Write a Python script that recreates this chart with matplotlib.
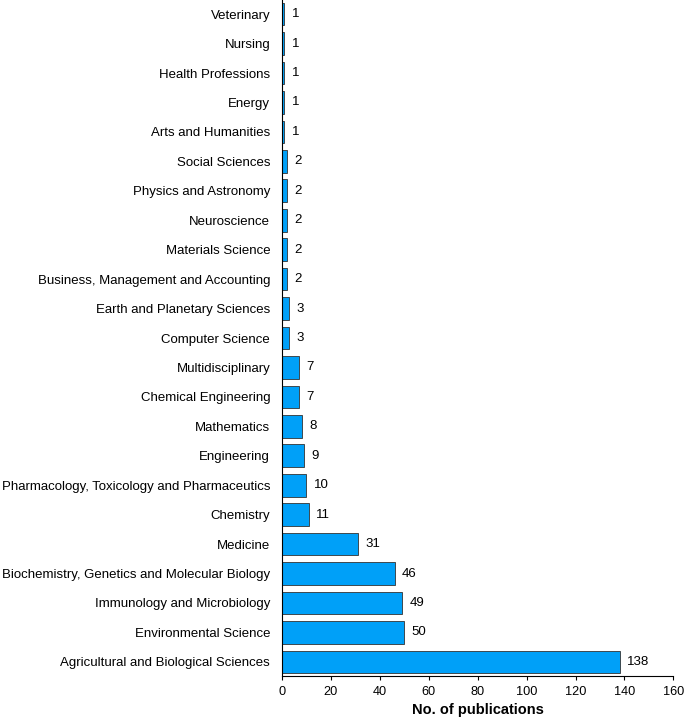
import matplotlib
matplotlib.use("Agg")
import matplotlib.pyplot as plt

categories = [
    "Agricultural and Biological Sciences",
    "Environmental Science",
    "Immunology and Microbiology",
    "Biochemistry, Genetics and Molecular Biology",
    "Medicine",
    "Chemistry",
    "Pharmacology, Toxicology and Pharmaceutics",
    "Engineering",
    "Mathematics",
    "Chemical Engineering",
    "Multidisciplinary",
    "Computer Science",
    "Earth and Planetary Sciences",
    "Business, Management and Accounting",
    "Materials Science",
    "Neuroscience",
    "Physics and Astronomy",
    "Social Sciences",
    "Arts and Humanities",
    "Energy",
    "Health Professions",
    "Nursing",
    "Veterinary",
]
counts = [138, 50, 49, 46, 31, 11, 10, 9, 8, 7, 7, 3, 3, 2, 2, 2, 2, 2, 1, 1, 1, 1, 1]
xticks = [0, 20, 40, 60, 80, 100, 120, 140, 160]

plt.rcParams['font.family'] = ['Liberation Sans', 'DejaVu Sans']

fig = plt.figure(figsize=(6.85, 7.22), dpi=100)
ax = fig.add_axes([0.4117, 0.0637, 0.5713, 0.9363])

y = list(range(len(categories)))
ax.barh(y, counts, height=0.77, color='#00a0f8', edgecolor='#333333', linewidth=0.6)
for yi, v in zip(y, counts):
    ax.text(v + 3, yi, str(v), va='center', ha='left', fontsize=9.5)

ax.set_yticks(y)
ax.set_yticklabels(categories, fontsize=9.5)
ax.tick_params(axis='y', length=0, pad=8.5)
ax.set_xticks(xticks)
ax.tick_params(axis='x', labelsize=9.2, length=3, direction='out', pad=4)
ax.set_xlim(0, 160)
ax.set_ylim(-0.48, len(categories) - 0.52)
ax.set_xlabel("No. of publications", fontsize=10.5, fontweight='bold', labelpad=4)
for s in ['top', 'right']:
    ax.spines[s].set_visible(False)
ax.spines['left'].set_linewidth(0.8)
ax.spines['bottom'].set_linewidth(0.8)

fig.savefig("out.png", dpi=100)
